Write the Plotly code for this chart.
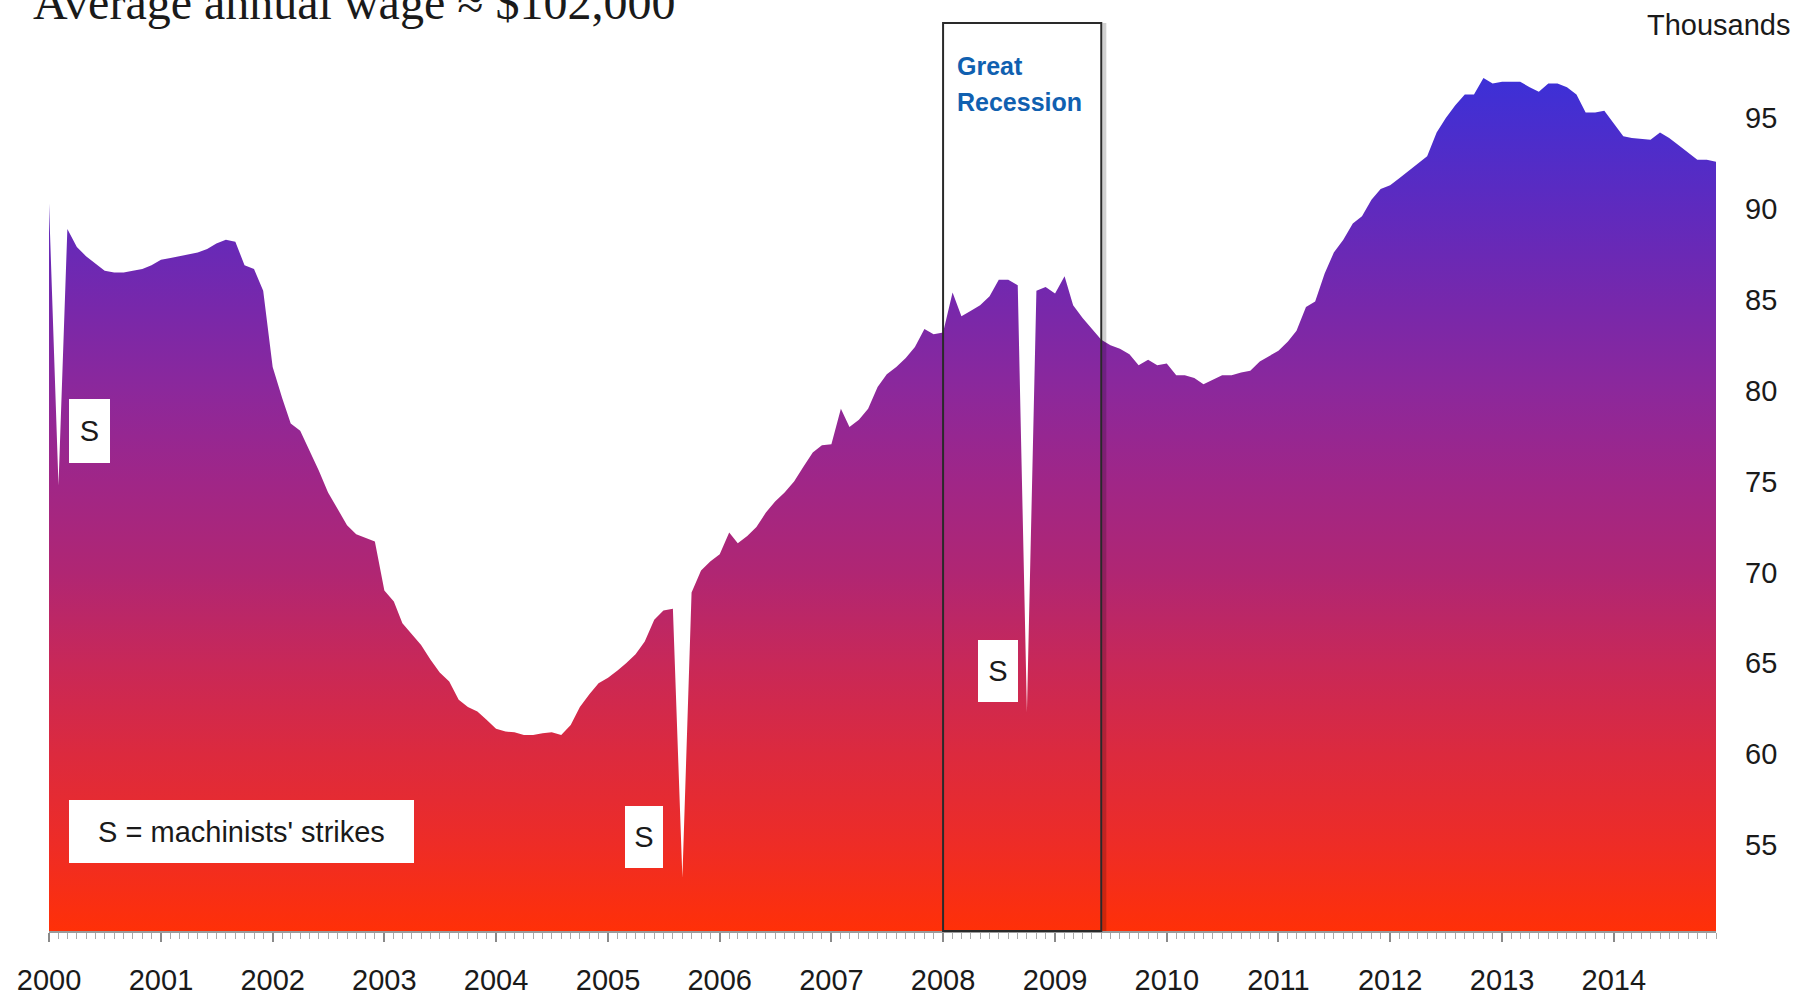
import pandas as pd
import plotly.graph_objects as go

# ---------------- data ----------------
months = pd.date_range("2000-01-01", periods=180, freq="MS")

wage_thousands = [
    # 2000
    90.3, 74.8, 88.9, 87.9, 87.4, 87.0, 86.6, 86.5, 86.5, 86.6, 86.7, 86.9,
    # 2001
    87.2, 87.3, 87.4, 87.5, 87.6, 87.8, 88.1, 88.3, 88.2, 86.9, 86.7, 85.5,
    # 2002
    81.3, 79.6, 78.2, 77.8, 76.7, 75.6, 74.4, 73.5, 72.6, 72.1, 71.9, 71.7,
    # 2003
    69.0, 68.4, 67.2, 66.6, 66.0, 65.2, 64.5, 64.0, 63.0, 62.6, 62.35, 61.9,
    # 2004
    61.4, 61.25, 61.2, 61.05, 61.05, 61.15, 61.2, 61.05, 61.6, 62.6, 63.3, 63.9,
    # 2005
    64.2, 64.6, 65.0, 65.5, 66.2, 67.4, 67.9, 68.0, 53.2, 68.9, 70.1, 70.6,
    # 2006
    71.0, 72.2, 71.6, 72.0, 72.5, 73.3, 73.9, 74.4, 75.0, 75.8, 76.6, 77.0,
    # 2007
    77.05, 79.0, 78.0, 78.4, 79.0, 80.2, 80.9, 81.3, 81.8, 82.4, 83.4, 83.1,
    # 2008
    83.2, 85.4, 84.1, 84.4, 84.7, 85.2, 86.1, 86.1, 85.8, 62.3, 85.5, 85.7,
    # 2009
    85.35, 86.3, 84.7, 84.0, 83.4, 82.8, 82.5, 82.3, 82.0, 81.4, 81.7, 81.4,
    # 2010
    81.5, 80.85, 80.85, 80.7, 80.35, 80.6, 80.85, 80.85, 81.0, 81.1, 81.6, 81.9,
    # 2011
    82.2, 82.7, 83.3, 84.6, 84.9, 86.45, 87.6, 88.3, 89.2, 89.6, 90.5, 91.1,
    # 2012
    91.3, 91.7, 92.1, 92.5, 92.9, 94.2, 95.0, 95.7, 96.3, 96.3, 97.2, 96.9,
    # 2013
    97.0, 97.0, 97.0, 96.7, 96.45, 96.9, 96.9, 96.7, 96.3, 95.3, 95.3, 95.4,
    # 2014
    94.7, 94.0, 93.9, 93.85, 93.8, 94.2, 93.9, 93.5, 93.1, 92.7, 92.7, 92.6,
]

y_ticks = [55, 60, 65, 70, 75, 80, 85, 90, 95]
recession_start = "2008-01-01"
recession_end = "2009-06-01"

title_text = "Average annual wage \u2248 $102,000"
unit_text = "Thousands"
recession_line1 = "Great"
recession_line2 = "Recession"
strike_label = "S"
legend_text = "S = machinists' strikes"

# ---------------- layout geometry ----------------
W, H = 1814, 997
L, R, T, B = 49, 98, 23, 66
PW, PH = W - L - R, H - T - B
Y_MIN, Y_MAX = 50.27, 100.23


def px_x(px):
    return (px - L) / PW


def px_y(py):
    return (H - B - py) / PH


grad_stops = [
    [0.00, "rgb(255,48,8)"],
    [0.10, "rgb(238,44,38)"],
    [0.207, "rgb(220,42,62)"],
    [0.313, "rgb(200,40,88)"],
    [0.42, "rgb(176,38,115)"],
    [0.526, "rgb(160,38,135)"],
    [0.633, "rgb(140,40,155)"],
    [0.74, "rgb(118,40,172)"],
    [0.846, "rgb(95,42,190)"],
    [1.00, "rgb(60,48,215)"],
]

fig = go.Figure()
fig.add_trace(
    go.Scatter(
        x=months,
        y=wage_thousands,
        mode="lines",
        line=dict(width=0, color="rgb(120,40,170)"),
        fill="tozeroy",
        fillgradient=dict(type="vertical", colorscale=grad_stops,
                          start=Y_MIN, stop=97.2),
        hoverinfo="x+y",
        showlegend=False,
    )
)

TICK_FONT = dict(family="Liberation Sans, Arial, sans-serif", size=29, color="#1a1a1a")

fig.update_layout(
    width=W,
    height=H,
    margin=dict(l=L, r=R, t=T, b=B, pad=0, autoexpand=False),
    paper_bgcolor="white",
    plot_bgcolor="white",
    showlegend=False,
    xaxis=dict(
        type="date",
        range=["2000-01-01", "2014-12-01"],
        tick0="2000-01-01",
        dtick="M12",
        tickformat="%Y",
        ticks="outside",
        ticklen=9,
        tickwidth=2,
        tickcolor="#8a8a8a",
        minor=dict(dtick="M1", ticks="outside", ticklen=6, tickwidth=1, tickcolor="#aaaaaa"),
        showline=True,
        linecolor="#9a9a9a",
        linewidth=2,
        showgrid=False,
        zeroline=False,
        tickfont=TICK_FONT,
        ticklabelstandoff=13,
        automargin=False,
    ),
    yaxis=dict(
        range=[Y_MIN, Y_MAX],
        side="right",
        tickvals=y_ticks,
        ticktext=[str(v) for v in y_ticks],
        ticks="",
        showline=False,
        showgrid=False,
        zeroline=False,
        tickfont=TICK_FONT,
        ticklabelstandoff=28,
        automargin=False,
    ),
)

# recession box (with soft shadow on right)
fig.add_shape(type="line", xref="x", yref="paper",
              x0="2009-06-11", x1="2009-06-11", y0=0, y1=1,
              line=dict(color="rgba(0,0,0,0.18)", width=4), layer="above")
fig.add_shape(type="rect", xref="x", yref="paper",
              x0=recession_start, x1=recession_end, y0=0, y1=1,
              line=dict(color="#2a2a2a", width=2), fillcolor="rgba(0,0,0,0)", layer="above")

REC_FONT = dict(family="Liberation Sans, Arial, sans-serif", size=25, color="#1060b0",
                weight="bold")
annotations = [
    dict(text=title_text, xref="paper", yref="paper", x=px_x(31), y=px_y(31),
         xanchor="left", yanchor="bottom", showarrow=False,
         font=dict(family="Liberation Serif, Times New Roman, serif", size=48, color="#1a1a1a")),
    dict(text=unit_text, xref="paper", yref="paper", x=px_x(1719), y=px_y(25),
         xanchor="center", yanchor="middle", showarrow=False, font=TICK_FONT),
    dict(text=recession_line1, xref="paper", yref="paper", x=px_x(955), y=px_y(66),
         xanchor="left", yanchor="middle", showarrow=False, font=REC_FONT),
    dict(text=recession_line2, xref="paper", yref="paper", x=px_x(955), y=px_y(102),
         xanchor="left", yanchor="middle", showarrow=False, font=REC_FONT),
]

strike_boxes = [  # center x, center y, width, height (pixels)
    (89.5, 431, 41, 64),
    (644, 837, 38, 62),
    (998, 671, 40, 62),
]
for cx, cy, bw, bh in strike_boxes:
    annotations.append(dict(
        text=strike_label, xref="paper", yref="paper", x=px_x(cx), y=px_y(cy),
        xanchor="center", yanchor="middle", showarrow=False,
        width=bw, height=bh, bgcolor="white", borderpad=0, borderwidth=0,
        font=dict(family="Liberation Sans, Arial, sans-serif", size=29, color="#1a1a1a")))

annotations.append(dict(
    text=legend_text, xref="paper", yref="paper", x=px_x(241.5), y=px_y(831.5),
    xanchor="center", yanchor="middle", showarrow=False,
    width=345, height=63, bgcolor="white", borderpad=0, borderwidth=0,
    font=dict(family="Liberation Sans, Arial, sans-serif", size=29, color="#1a1a1a")))

fig.update_layout(annotations=annotations)

fig.write_html("out.html",
               config={"displayModeBar": False},
               post_script="document.body.style.margin='0';document.body.style.overflow='hidden';")
